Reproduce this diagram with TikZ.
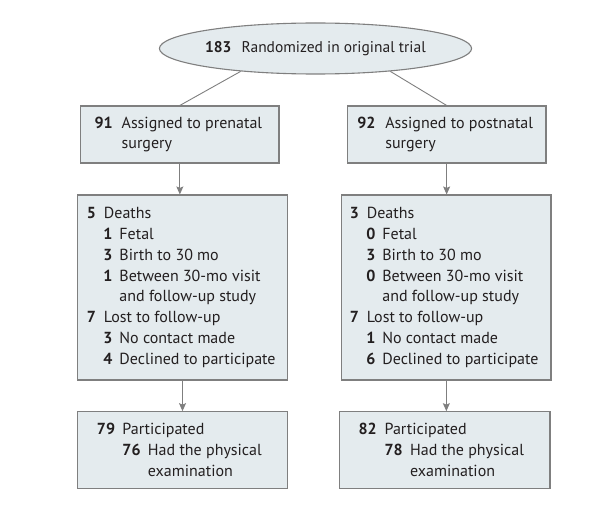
\documentclass[tikz,border=0pt]{standalone}
\usepackage{fontspec}
\setmainfont{PT Sans}
\usetikzlibrary{shapes.geometric,arrows.meta}
\definecolor{boxfill}{HTML}{E4EBEE}
\definecolor{boxline}{HTML}{7F7F7F}
\definecolor{txt}{HTML}{231F20}
\newcommand\nbox[2]{\makebox[#1][l]{\textbf{#2}}}
\tikzset{
  flowbox/.style={draw=boxline, fill=boxfill, line width=1.1pt, rectangle, inner sep=0pt},
  boxtext/.style={align=left, inner sep=0pt, anchor=west, text=txt, font=\fontsize{16}{20.8}\selectfont},
  conn/.style={draw=boxline, line width=0.9pt},
  arr/.style={conn, -{Stealth[length=8pt,width=7pt,inset=1.5pt]}, fill=boxline},
}
\begin{document}
\begin{tikzpicture}[x=1pt,y=-1pt]
\useasboundingbox (0,0) rectangle (609,508);
% ellipse
\node[draw=boxline, fill=boxfill, line width=1.1pt, ellipse, inner sep=0pt,
      minimum width=265pt, minimum height=51pt, text=txt, font=\fontsize{15.5}{20.8}\selectfont]
      (ell) at (315.5,48.5) {\textbf{183}\hspace{10pt}Randomized in original trial};
% level 1
\node[flowbox, minimum width=198.3pt, minimum height=57pt] (L1) at (179.85,134.5) {};
\node[boxtext] (L1t) at ([xshift=14.3pt]L1.west) {\nbox{27pt}{91}Assigned to prenatal\\\hspace*{27pt}surgery};
\node[flowbox, minimum width=198.7pt, minimum height=57pt] (R1) at (446.65,134.5) {};
\node[boxtext] (R1t) at ([xshift=10.4pt]R1.west) {\nbox{28pt}{92}Assigned to postnatal\\\hspace*{28pt}surgery};
% level 2
\node[flowbox, minimum width=210.4pt, minimum height=185pt] (L2) at (182.5,287.5) {};
\node[boxtext] (L2t) at ([xshift=10pt]L2.west) {%
\nbox{17pt}{5}Deaths\\
\hspace*{16.5pt}\nbox{16pt}{1}Fetal\\
\hspace*{16.5pt}\nbox{16pt}{3}Birth to 30 mo\\
\hspace*{16.5pt}\nbox{16pt}{1}Between 30-mo visit\\
\hspace*{32.5pt}and follow-up study\\
\nbox{17pt}{7}Lost to follow-up\\
\hspace*{16.5pt}\nbox{16pt}{3}No contact made\\
\hspace*{16.5pt}\nbox{16pt}{4}Declined to participate};
\node[flowbox, minimum width=209.3pt, minimum height=185pt] (R2) at (446.35,287.5) {};
\node[boxtext] (R2t) at ([xshift=8.5pt]R2.west) {%
\nbox{17pt}{3}Deaths\\
\hspace*{16.5pt}\nbox{16pt}{0}Fetal\\
\hspace*{16.5pt}\nbox{16pt}{3}Birth to 30 mo\\
\hspace*{16.5pt}\nbox{16pt}{0}Between 30-mo visit\\
\hspace*{32.5pt}and follow-up study\\
\nbox{17pt}{7}Lost to follow-up\\
\hspace*{16.5pt}\nbox{16pt}{1}No contact made\\
\hspace*{16.5pt}\nbox{16pt}{6}Declined to participate};
% level 3
\node[flowbox, minimum width=210.4pt, minimum height=76.6pt] (L3) at (182.5,450) {};
\node[boxtext] (L3t) at ([xshift=20pt]L3.west) {%
\nbox{25.5pt}{79}Participated\\
\hspace*{25.5pt}\nbox{25.5pt}{76}Had the physical\\
\hspace*{51pt}examination};
\node[flowbox, minimum width=210.7pt, minimum height=76.6pt] (R3) at (444.65,450) {};
\node[boxtext] (R3t) at ([xshift=19.7pt]R3.west) {%
\nbox{26pt}{82}Participated\\
\hspace*{26pt}\nbox{25.5pt}{78}Had the physical\\
\hspace*{51.5pt}examination};
% connectors
\draw[conn] (ell.197) -- (L1.north);
\draw[conn] (ell.343) -- (R1.north);
\draw[arr] (L1.south) -- (L1.south |- L2.north);
\draw[arr] (R1.south) -- (R1.south |- R2.north);
\draw[arr] (L3.north |- L2.south) -- (L3.north);
\draw[arr] (R2.south) -- (R2.south |- R3.north);
\end{tikzpicture}
\end{document}
